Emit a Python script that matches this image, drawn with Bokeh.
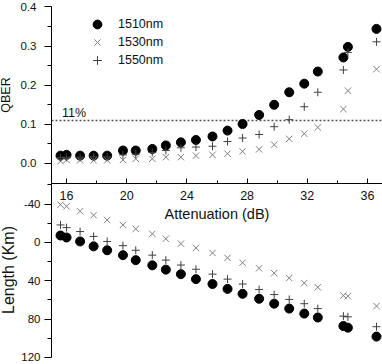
from bokeh.plotting import figure
from bokeh.models import (Range1d, LinearAxis, FixedTicker, Label,
                          Legend, LegendItem)
from bokeh.embed import file_html
from bokeh.resources import INLINE

# ---------------- data ----------------
attenuation = [15.6, 16.0, 16.9, 17.8, 18.7, 19.75, 20.6, 21.7, 22.6, 23.6, 24.6,
               25.7, 26.7, 27.7, 28.8, 29.8, 30.8, 31.8, 32.7, 34.4, 34.7, 36.6]

qber_1510 = [0.020, 0.022, 0.020, 0.020, 0.020, 0.033, 0.033, 0.037, 0.046, 0.054, 0.060,
             0.069, 0.084, 0.101, 0.124, 0.150, 0.182, 0.204, 0.235, 0.271, 0.298, 0.344]
qber_1530 = [0.006, 0.009, 0.008, 0.008, 0.008, 0.009, 0.012, 0.012, 0.016, 0.016, 0.020,
             0.022, 0.025, 0.031, 0.036, 0.048, 0.063, 0.076, 0.092, 0.139, 0.186, 0.241]
qber_1550 = [0.015, 0.016, 0.016, 0.017, 0.017, 0.022, 0.024, 0.028, 0.033, 0.040, 0.042,
             0.044, 0.056, 0.065, 0.074, 0.094, 0.112, 0.145, 0.182, 0.239, 0.284, 0.311]

len_1510 = [-7.2, -5.1, -1.0, 4.1, 8.2, 13.3, 18.5, 23.9, 28.4, 33.1, 38.3,
            43.4, 48.5, 53.6, 58.8, 63.9, 69.0, 74.2, 78.3, 87.2, 88.9, 98.2]
len_1530 = [-39.3, -37.6, -32.5, -28.4, -23.3, -18.2, -14.1, -8.9, -3.8, 1.3, 5.8,
            11.0, 16.1, 21.2, 27.0, 32.1, 37.2, 42.4, 46.8, 55.4, 56.1, 66.4]
len_1550 = [-18.2, -15.4, -11.3, -6.2, -1.0, 3.4, 8.2, 13.3, 18.5, 23.6, 28.0,
            33.1, 38.3, 43.4, 49.2, 54.4, 59.5, 63.9, 69.0, 76.9, 77.6, 87.9]

series_labels = ["1510nm", "1530nm", "1550nm"]
threshold = 0.11
threshold_label = "11%"

x_extent = (15, 37)
q_extent = (-0.05, 0.4)
l_extent = (-62.5, 120)

x_ticks = [16, 20, 24, 28, 32, 36]
x_minor = [18, 22, 26, 30, 34]
q_ticks = [0.0, 0.1, 0.2, 0.3, 0.4]
q_minor = [0.05, 0.15, 0.25, 0.35]
q_tick_labels = ["0.0", "0.1", "0.2", "0.3", "0.4"]
l_ticks = [-40, 0, 40, 80, 120]
l_minor = [-60, -20, 20, 60, 100]
l_tick_labels = ["-40", "0", "40", "80", "120"]

FONT = "Liberation Sans"
TXT = "#111111"

# ---------------- figure ----------------
p = figure(width=382, height=364, output_backend="svg", toolbar_location=None,
           x_range=Range1d(11.61, 37.0), y_range=Range1d(-0.514, 0.4166),
           x_axis_location=None, y_axis_location=None,
           min_border_left=0, min_border_right=0, min_border_top=0,
           min_border_bottom=0)
p.extra_y_ranges = {"len": Range1d(start=127.3, end=-252.2)}
p.grid.visible = False
p.outline_line_color = None
p.background_fill_color = "white"
p.border_fill_color = "white"


def style_axis(ax, size="11.5px"):
    ax.axis_line_color = "black"
    ax.axis_line_width = 1
    ax.major_tick_line_color = "black"
    ax.minor_tick_line_color = "black"
    ax.major_label_text_font = FONT
    ax.major_label_text_font_size = size
    ax.major_label_text_color = TXT
    ax.axis_label_text_font = FONT
    ax.axis_label_text_font_style = "normal"
    ax.axis_label_text_color = TXT


# QBER axis (top panel)
qa = LinearAxis(fixed_location=x_extent[0])
style_axis(qa)
qa.ticker = FixedTicker(ticks=q_ticks, minor_ticks=q_minor)
qa.major_label_overrides = dict(zip(q_ticks, q_tick_labels))
qa.bounds = q_extent
qa.axis_label = "QBER"
qa.axis_label_text_font_size = "12.5px"
qa.major_tick_out = 7
qa.major_tick_in = 0
qa.minor_tick_out = 4
qa.minor_tick_in = 0
qa.major_label_standoff = 8
qa.axis_label_standoff = 5
p.add_layout(qa, "left")

# Length axis (bottom panel)
la = LinearAxis(y_range_name="len", fixed_location=x_extent[0])
style_axis(la)
la.ticker = FixedTicker(ticks=l_ticks, minor_ticks=l_minor)
la.major_label_overrides = dict(zip(l_ticks, l_tick_labels))
la.bounds = l_extent
la.axis_label = "Length (Km)"
la.axis_label_text_font_size = "16px"
la.major_tick_out = 7
la.major_tick_in = 0
la.minor_tick_out = 4
la.minor_tick_in = 0
la.major_label_standoff = 4
la.axis_label_standoff = 1
p.add_layout(la, "left")

# Shared attenuation axis between the panels
xa = LinearAxis(fixed_location=q_extent[0])
style_axis(xa, "12.5px")
xa.ticker = FixedTicker(ticks=x_ticks, minor_ticks=x_minor)
xa.bounds = x_extent
xa.axis_label = "Attenuation (dB)"
xa.axis_label_text_font_size = "14.5px"
xa.major_tick_in = 5
xa.major_tick_out = 0
xa.minor_tick_in = 3
xa.minor_tick_out = 0
xa.major_label_standoff = 8
xa.axis_label_standoff = 2
p.add_layout(xa, "below")

# threshold line (dotted) across the axis extent
p.line(x=list(x_extent), y=[threshold, threshold], line_color="#555555",
       line_dash="2 2", line_width=1.5)
p.add_layout(Label(x=15.7, y=threshold + 0.002, text=threshold_label,
                   text_font=FONT, text_font_size="12.5px", text_color=TXT,
                   text_baseline="bottom"))

# QBER series
r1 = p.scatter(attenuation, qber_1510, marker="circle", size=9,
               fill_color="black", line_color="black")
r2 = p.scatter(attenuation, qber_1530, marker="x", size=9,
               line_color="#808080", line_width=1)
r3 = p.scatter(attenuation, qber_1550, marker="cross", size=8,
               line_color="#404040", line_width=1)

# Length series
p.scatter(attenuation, len_1510, y_range_name="len", marker="circle", size=9,
          fill_color="black", line_color="black")
p.scatter(attenuation, len_1530, y_range_name="len", marker="x", size=9,
          line_color="#808080", line_width=1)
p.scatter(attenuation, len_1550, y_range_name="len", marker="cross", size=8,
          line_color="#404040", line_width=1)

# one legend entry per box so the rows sit 18px apart with full-size keys
for i, (lab, r) in enumerate(zip(series_labels, [r1, r2, r3])):
    lg = Legend(items=[LegendItem(label=lab, renderers=[r])],
                location=(86, 329 - 18 * i), padding=0, margin=0, spacing=0,
                glyph_width=22, glyph_height=22, label_height=22,
                label_standoff=10, border_line_color=None,
                background_fill_alpha=0, label_text_font=FONT,
                label_text_font_size="12.5px", label_text_color=TXT)
    p.add_layout(lg)

open("out.html", "w").write(file_html(p, INLINE))
